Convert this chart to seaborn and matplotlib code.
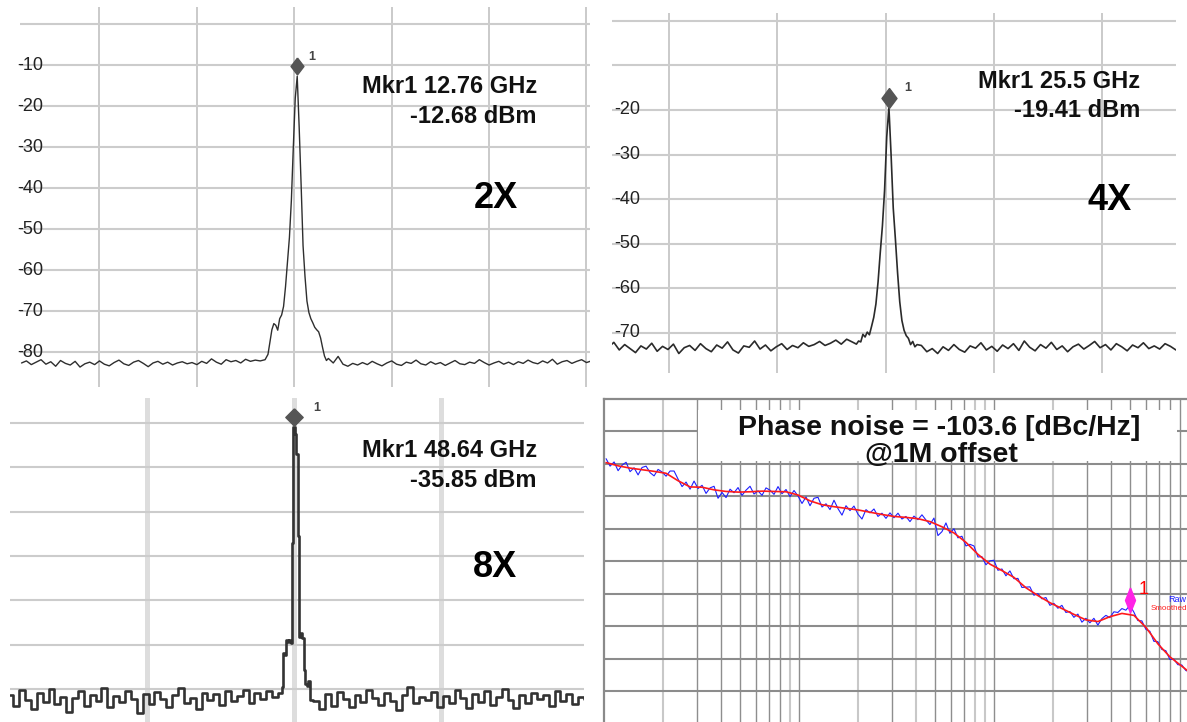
import numpy as np
import pandas as pd
import matplotlib
matplotlib.use("Agg")
import matplotlib.pyplot as plt
from matplotlib import transforms
from matplotlib.patches import Rectangle
import seaborn as sns

sns.set_theme(style="white")
plt.rcParams["font.family"] = ["Liberation Sans", "DejaVu Sans"]

W, H = 1187, 722

# ---------------------------------------------------------------------------
# Harmonic spectra: x = offset from the centre graticule line (divisions),
# y = displayed level (dBm).  Each trace = left noise floor, peak, right floor.
# ---------------------------------------------------------------------------
harmonic_tags = ["2X", "4X", "8X"]
marker_freq_ghz = [12.76, 25.5, 48.64]

noise_2x_left = [-82.6, -82.1, -83.0, -82.4, -81.8, -82.9, -82.3, -83.4, -82.0, -82.7,
                 -83.1, -82.2, -83.6, -82.8, -82.4, -83.0, -82.1, -82.9, -83.3, -82.5,
                 -81.9, -82.8, -83.2, -82.4, -82.0, -82.7, -83.5, -82.6, -82.2, -82.9,
                 -82.4, -83.1, -82.6, -82.3, -82.8, -82.5, -83.0, -82.2, -82.7, -81.6,
                 -82.4, -82.9, -81.8, -82.3, -82.0, -82.6, -81.7, -82.2, -81.9, -82.1, -81.8]
peak_2x = [-80.5, -77.5, -74.5, -73.0, -73.4, -74.6, -71.8, -70.9, -68.8, -64.0,
           -58.0, -52.0, -43.0, -30.0, -18.0, -12.68, -25.0, -39.0, -54.0, -61.5,
           -67.5, -70.3, -71.8, -72.8, -73.9, -74.5, -75.0, -76.5, -78.8, -80.9,
           -82.0, -81.5]
noise_2x_right = [-82.6, -81.0, -82.9, -83.4, -82.7, -83.1, -82.5, -83.0, -82.2, -82.8,
                  -83.3, -82.6, -82.1, -82.9, -83.2, -82.4, -82.7, -81.9, -82.8, -83.1,
                  -82.3, -82.9, -82.5, -83.2, -82.6, -82.0, -82.8, -83.0, -82.4, -82.7,
                  -81.8, -82.5, -83.1, -82.6, -82.2, -82.9, -82.4, -83.0, -82.3, -82.7,
                  -81.9, -82.5, -82.8, -82.1, -82.6, -81.7, -82.9, -82.3, -82.0, -82.7,
                  -82.2, -81.8, -82.5, -82.1]

noise_4x_left = [-73.2, -72.1, -73.8, -72.6, -73.5, -74.4, -72.9, -73.6, -72.3, -74.1,
                 -73.0, -73.7, -72.5, -74.6, -73.3, -72.8, -73.9, -72.4, -73.5, -74.2,
                 -72.7, -73.4, -72.0, -73.8, -74.5, -72.9, -73.2, -71.8, -73.6, -72.7,
                 -74.0, -73.1, -72.4, -73.7, -72.8, -73.3, -72.2, -73.0, -72.6, -71.9,
                 -72.8, -72.3, -71.6, -72.5, -71.4, -72.0]
peak_4x = [-72.5, -71.8, -72.0, -70.3, -70.9, -69.8, -70.4, -68.5, -66.5, -63.5,
           -58.5, -52.0, -46.0, -38.0, -26.0, -19.41, -30.0, -42.0, -49.0, -56.5,
           -63.0, -67.2, -69.4, -70.6, -71.2, -72.6, -71.9, -73.1, -72.6]
noise_4x_right = [-72.8, -74.2, -73.5, -74.6, -73.1, -73.9, -72.6, -73.7, -74.3, -72.9,
                  -73.4, -72.2, -73.8, -73.0, -74.1, -72.7, -73.5, -72.4, -73.9, -71.8,
                  -73.2, -74.0, -72.6, -73.4, -72.1, -73.7, -72.9, -74.2, -73.1, -72.5,
                  -73.6, -72.8, -71.9, -73.3, -72.6, -73.8, -72.4, -73.1, -74.0, -72.7,
                  -73.3, -72.2, -73.5, -72.9, -73.6, -72.4, -73.0, -73.8]

noise_8x_left = [-96.5, -98.8, -95.2, -97.6, -99.5, -96.0, -97.9, -95.1, -98.4, -96.8,
                 -100.2, -97.0, -95.6, -98.9, -96.3, -97.7, -94.8, -99.1, -96.6, -98.0,
                 -95.4, -97.3, -100.5, -96.1, -98.5, -95.8, -97.2, -99.0, -96.4, -94.9,
                 -98.2, -97.0, -99.6, -95.9, -97.5, -96.2, -98.7, -95.5, -97.8, -96.7,
                 -95.3, -98.1, -96.0, -97.4, -95.6, -96.9]
peak_8x = [-96.0, -94.5, -87.0, -87.3, -84.0, -84.4, -83.9, -84.6, -62.0, -35.85,
           -37.5, -42.0, -60.5, -83.2, -82.4, -83.6, -90.8, -93.9, -94.3, -93.2, -97.5]
noise_8x_right = [-97.8, -99.6, -96.2, -98.9, -95.7, -97.4, -99.2, -96.5, -98.0, -95.3,
                  -97.1, -98.6, -96.0, -97.7, -99.8, -96.4, -94.6, -98.3, -96.9, -97.5,
                  -95.8, -99.0, -96.6, -98.2, -95.2, -97.0, -99.3, -96.1, -97.9, -95.5,
                  -98.7, -96.8, -95.0, -97.6, -99.4, -96.3, -98.1, -95.9, -97.2, -96.5,
                  -98.8, -95.4, -97.7, -96.1, -98.4, -96.9, -97.3]

# ---------------------------------------------------------------------------
# Phase noise (dBc/Hz) over a log-swept offset frequency
# ---------------------------------------------------------------------------
phase_noise_smoothed = [-59.6, -60.6, -61.3, -61.8, -62.3, -62.9, -65.2, -67.1, -67.2, -68.0,
                        -68.5, -68.7, -68.6, -68.4, -68.5, -68.6, -69.6, -71.4, -72.6, -73.2,
                        -73.7, -74.2, -74.9, -75.6, -76.2, -76.5, -76.9, -77.8, -79.4, -81.3,
                        -84.2, -87.9, -90.9, -92.9, -95.0, -98.2, -100.6, -102.8, -104.6, -106.4,
                        -108.1, -108.6, -107.1, -106.1, -106.7, -110.4, -115.5, -119.5, -122.4, -125.3]
phase_noise_raw = [-58.4, -60.7, -59.4, -62.1, -60.4, -59.5, -62.4, -61.2, -63.4, -61.1,
                   -60.7, -62.7, -63.7, -61.7, -62.5, -63.8, -62.2, -62.2, -64.7, -67.0,
                   -65.6, -67.8, -65.3, -67.6, -66.6, -69.1, -67.4, -66.9, -70.6, -68.8,
                   -70.4, -67.8, -68.9, -67.3, -69.7, -68.1, -66.9, -69.3, -68.3, -69.7,
                   -67.4, -68.1, -69.4, -67.0, -69.2, -67.9, -70.1, -68.2, -69.9, -72.2,
                   -70.2, -72.9, -70.6, -70.3, -73.3, -72.3, -74.1, -71.2, -73.8, -75.8,
                   -72.9, -74.4, -73.0, -75.5, -77.0, -74.1, -75.1, -73.9, -76.2, -75.2,
                   -76.8, -75.1, -76.6, -75.2, -77.0, -76.2, -77.8, -76.1, -77.2, -75.7,
                   -77.3, -78.7, -76.7, -82.1, -80.9, -78.2, -81.4, -80.0, -82.8, -82.3,
                   -85.3, -84.8, -85.3, -88.7, -88.6, -91.1, -89.9, -89.7, -92.8, -92.4,
                   -94.5, -93.0, -95.4, -95.3, -98.1, -98.0, -97.9, -100.5, -100.0, -101.6,
                   -101.2, -103.6, -103.0, -104.5, -103.6, -105.8, -105.5, -107.3, -106.3, -108.8,
                   -107.6, -109.0, -107.6, -109.7, -107.7, -106.7, -107.4, -105.6, -105.8, -104.6,
                   -105.1, -103.6, -105.7, -108.3, -108.4, -111.0, -111.6, -114.7, -114.8, -117.2,
                   -117.6, -120.3, -120.2, -121.9, -122.0, -123.7, -124.1]
raw_sweep_hz = (2.05e3, 2.02e6)
smoothed_sweep_hz = (2.05e3, 2.12e6)
marker_offset_hz = 1e6

fig = plt.figure(figsize=(W / 100, H / 100), dpi=100)
fig.patch.set_facecolor("white")


def px_axes(x0, y0, x1, y1):
    return fig.add_axes([x0 / W, 1 - y1 / H, (x1 - x0) / W, (y1 - y0) / H])


def ftext(x, y, s, **kw):
    return fig.text(x / W, 1 - y / H, s, **kw)


def diamond(ratio):
    return [(0, 1), (ratio, 0), (0, -1), (-ratio, 0), (0, 1)]


def trace_frame(segments):
    xs, ys = [], []
    for start, step, vals in segments:
        xs.append(start + step * np.arange(len(vals)))
        ys.append(np.asarray(vals, dtype=float))
    return pd.DataFrame({"offset_div": np.concatenate(xs),
                         "level_dbm": np.concatenate(ys)})


def spectrum_panel(rect, segments, xlim, ylim, vticks, hticks, labelled, label_x,
                   trace_style, vgrid, hgrid, marker_shape, one_offset, freq_ghz,
                   text_right, text_baselines, tag, tag_x, tag_baseline):
    ax = px_axes(*rect)
    df = trace_frame(segments)
    lw, drawstyle, colour = trace_style
    sns.lineplot(data=df, x="offset_div", y="level_dbm", ax=ax, color=colour,
                 lw=lw, drawstyle=drawstyle, estimator=None, sort=False, zorder=3)
    ax.set_xlim(*xlim)
    ax.set_ylim(*ylim)
    ax.set_xticks(vticks)
    ax.set_yticks(hticks)
    ax.xaxis.grid(True, color=vgrid[0], lw=vgrid[1])
    ax.yaxis.grid(True, color=hgrid[0], lw=hgrid[1])
    ax.set_axisbelow(True)
    ax.tick_params(length=0, labelbottom=False, labelleft=False)
    ax.set_xlabel("")
    ax.set_ylabel("")
    for s in ax.spines.values():
        s.set_visible(False)

    lab_tr = transforms.blended_transform_factory(fig.transFigure, ax.transData)
    for v in labelled:
        ax.text(label_x / W, v, f"{v:d}", transform=lab_tr, ha="left", va="center",
                fontsize=13, color="#222222")

    i = df["level_dbm"].idxmax()
    xp, yp = df["offset_div"][i], df["level_dbm"][i]
    ratio, ms, dy = marker_shape
    ax.plot([xp], [yp], ls="none", marker=diamond(ratio), ms=ms, color="#555555",
            transform=transforms.offset_copy(ax.transData, fig=fig, x=0, y=dy,
                                             units="dots"),
            clip_on=False, zorder=5)
    ax.annotate("1", xy=(xp, yp), xytext=one_offset, textcoords="offset pixels",
                ha="center", va="center", fontsize=9, fontweight="bold",
                color="#444444")

    ftext(text_right, text_baselines[0], f"Mkr1 {freq_ghz:g} GHz", ha="right",
          va="baseline", fontsize=17, fontweight="bold", color="#111111")
    ftext(text_right, text_baselines[1], f"{yp:.2f} dBm", ha="right",
          va="baseline", fontsize=17, fontweight="bold", color="#111111")
    ftext(tag_x, tag_baseline, tag, ha="center", va="baseline", fontsize=26,
          fontweight="bold", color="#000000")
    return ax


# 2X harmonic
spectrum_panel((20, 7, 590, 387),
               [(-2.80, 0.05, noise_2x_left), (-0.27, 0.02, peak_2x),
                (0.40, 0.05, noise_2x_right)],
               (-2.816, 3.036), (-88.46, 4.22),
               [-2, -1, 0, 1, 2, 3], list(range(0, -90, -10)),
               list(range(-10, -90, -10)), 17, (1.0, "default", "#2e2e2e"),
               ("#c6c6c6", 1.3), ("#cccccc", 1.5), (0.76, 12.2, 10), (15, 19),
               marker_freq_ghz[0], 537, (93.3, 123.3), harmonic_tags[0], 495.5, 208.3)

# 4X harmonic
spectrum_panel((612, 13, 1176, 373),
               [(-2.56, 0.05, noise_4x_left), (-0.27, 0.02, peak_4x),
                (0.33, 0.05, noise_4x_right)],
               (-2.527, 2.681), (-78.97, 1.73),
               [-2, -1, 0, 1, 2], list(range(0, -80, -10)),
               list(range(-20, -80, -10)), 614, (1.2, "default", "#2a2a2a"),
               ("#c6c6c6", 1.3), ("#cccccc", 1.5), (0.75, 14.4, 9), (19, 19),
               marker_freq_ghz[1], 1140, (88.3, 116.7), harmonic_tags[1], 1109.5, 210)

# 8X harmonic
spectrum_panel((10, 398, 584, 722),
               [(-1.93, 0.04, noise_8x_left), (-0.09, 0.01, peak_8x),
                (0.15, 0.04, noise_8x_right)],
               (-1.932, 1.970), (-102.5, -29.3),
               [-1, 0, 1], list(range(-35, -100, -10)),
               [], 0, (1.9, "steps-mid", "#333333"),
               ("#dddddd", 3.6), ("#cccccc", 1.5), (1.0, 12.5, 10), (23, 19),
               marker_freq_ghz[2], 537, (456.7, 486.7), harmonic_tags[2], 495.5, 576.7)

# ---------------------------------------------------------------------------
# Phase noise panel
# ---------------------------------------------------------------------------
ax4 = px_axes(604, 399, 1187, 722)
ax4.set_xscale("log")
f_left = 2000.0
ax4.set_xlim(f_left, f_left * 10 ** (583 / 195))
ax4.set_ylim(-40 - 323 / 3.244, -40)
ax4.set_xticks([])
ax4.set_yticks([])
ax4.minorticks_off()

light = {(0, 2), (0, 9), (1, 2), (1, 4), (1, 8), (1, 9), (2, 2)}
for d in range(3):
    for m in range(1, 10):
        if d == 0 and m == 1:
            continue
        if (d, m) in light:
            ax4.axvline(f_left * m * 10 ** d, color="#c8c8c8", lw=1.5, zorder=0.5)
        else:
            ax4.axvline(f_left * m * 10 ** d, color="#8e8e8e", lw=1.0, zorder=0.5)
for v in range(-50, -140, -10):
    ax4.axhline(v, color="#8c8c8c", lw=1.5, zorder=0.6)
for side in ("right", "bottom"):
    ax4.spines[side].set_visible(False)
for side in ("left", "top"):
    ax4.spines[side].set_visible(True)
    ax4.spines[side].set_color("#8a8a8a")
    ax4.spines[side].set_linewidth(1.6)

raw_df = pd.DataFrame({"offset_hz": np.geomspace(*raw_sweep_hz, len(phase_noise_raw)),
                       "dbc_hz": phase_noise_raw})
smooth_df = pd.DataFrame({"offset_hz": np.geomspace(*smoothed_sweep_hz,
                                                    len(phase_noise_smoothed)),
                          "dbc_hz": phase_noise_smoothed})
sns.lineplot(data=raw_df, x="offset_hz", y="dbc_hz", ax=ax4, color="#1f1fff",
             lw=0.8, estimator=None, sort=False, zorder=2)
sns.lineplot(data=smooth_df, x="offset_hz", y="dbc_hz", ax=ax4, color="#ff1a1a",
             lw=1.2, estimator=None, sort=False, zorder=3)
ax4.set_xlabel("")
ax4.set_ylabel("")

k = int(np.argmin(np.abs(raw_df["offset_hz"] - marker_offset_hz)))
pn_value = raw_df["dbc_hz"][k]
ax4.plot([marker_offset_hz], [pn_value], ls="none", marker=diamond(0.4), ms=18,
         color="#ff22e6",
         transform=transforms.offset_copy(ax4.transData, fig=fig, x=0, y=5, units="dots"),
         zorder=5)
ax4.annotate("1", xy=(marker_offset_hz, pn_value), xytext=(13, 16),
             textcoords="offset pixels", ha="center", va="center", fontsize=13,
             color="#ff0000")

narrow = ["Liberation Sans Narrow", "Liberation Sans", "DejaVu Sans"]
ftext(1168, 602, "Raw", ha="left", va="baseline", fontsize=6.5, color="#2020ff",
      family=narrow)
ftext(1151, 610, "Smoothed", ha="left", va="baseline", fontsize=5.8,
      color="#ff2020", family=narrow)

fig.patches.append(Rectangle((698 / W, 1 - 461.5 / H), (1177 - 698) / W,
                             (461.5 - 410) / H, transform=fig.transFigure,
                             facecolor="white", edgecolor="none", zorder=1))
ftext(939, 435, f"Phase noise = {pn_value:.1f} [dBc/Hz]", ha="center",
      va="baseline", fontsize=20.5, fontweight="bold", color="#111111", zorder=4)
ftext(941, 461.7, f"@{marker_offset_hz / 1e6:g}M offset", ha="center",
      va="baseline", fontsize=20.5, fontweight="bold", color="#111111", zorder=4)

fig.savefig("out.png", dpi=100, facecolor="white")
